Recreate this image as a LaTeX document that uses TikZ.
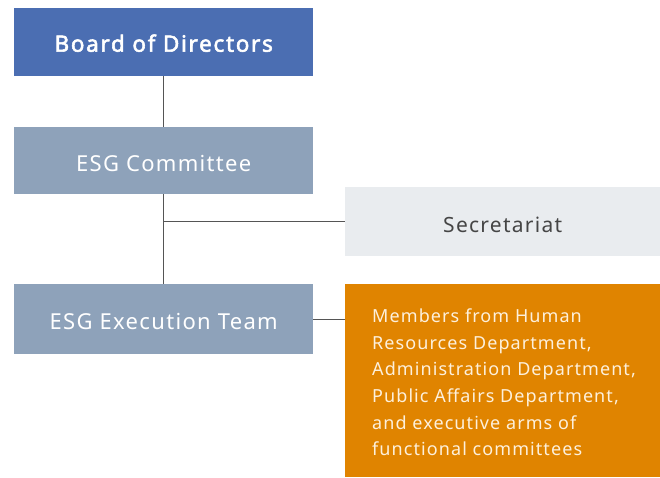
\documentclass[tikz,border=0pt]{standalone}
\usepackage{fontspec}
\setmainfont{Noto Sans}[LetterSpace=6]
\newfontfamily\boardfont{Noto Sans}[LetterSpace=7.5,FakeBold=2.4]
\definecolor{boardblue}{HTML}{4B6EB2}
\definecolor{esggray}{HTML}{8EA2BA}
\definecolor{secgray}{HTML}{E9ECEF}
\definecolor{orangebox}{HTML}{E08400}
\definecolor{orangetext}{HTML}{FDF0DC}
\definecolor{linegray}{HTML}{555555}
\definecolor{sectext}{HTML}{454545}
\begin{document}
\begin{tikzpicture}[x=1pt,y=-1pt,
  box/.style={rectangle,inner sep=0pt,minimum width=299pt,minimum height=68pt,anchor=north west,text height=20pt,text depth=0pt},
  conn/.style={draw=linegray,line width=1.2pt}]
\useasboundingbox (0,0) rectangle (660,477);
\node[box,fill=boardblue,text=white,font=\boardfont\fontsize{22.5}{24}\selectfont,text height=19pt] (board) at (14,8) {Board of Directors};
\node[box,fill=esggray,text=white,font=\fontsize{22}{24}\selectfont,minimum height=67pt,text height=21pt] (esg) at (14,127) {ESG Committee};
\node[box,fill=secgray,text=sectext,font=\fontsize{21}{24}\selectfont,minimum width=315pt,minimum height=69pt,text height=21pt] (sec) at (345,187) {Secretariat};
\node[box,fill=esggray,text=white,font=\fontsize{22}{24}\selectfont,minimum height=70pt] (exec) at (14,284) {ESG Execution Team};
\node[box,fill=orangebox,minimum width=315pt,minimum height=193pt] (mem) at (345,284) {};
\node[anchor=north west,inner sep=0pt,align=left,text=orangetext,font=\fontsize{18}{26.7}\selectfont] (memtext) at (372,308.5) {Members from Human\\Resources Department,\\Administration Department,\\Public Affairs Department,\\and executive arms of\\functional committees};
\coordinate (j) at (esg.south |- sec.west);
\draw[conn] (board.south) -- (esg.north);
\draw[conn] (esg.south) -- (exec.north);
\draw[conn] (j) -- (sec.west);
\draw[conn] (exec.east) -- (exec.east -| mem.west);
\end{tikzpicture}
\end{document}
